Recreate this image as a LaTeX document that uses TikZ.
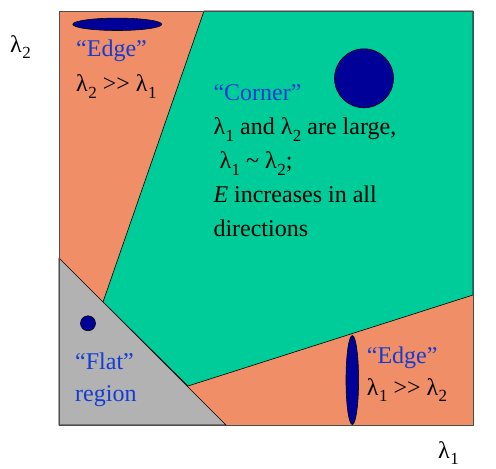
\documentclass[tikz,border=0pt]{standalone}
\usepackage{fontspec}
\setmainfont{Liberation Serif}
\usepackage{tikz}
\definecolor{edgeorange}{RGB}{240,142,104}
\definecolor{cornergreen}{RGB}{0,204,153}
\definecolor{flatgrey}{RGB}{178,178,178}
\definecolor{blobblue}{RGB}{0,0,153}
\definecolor{labelblue}{RGB}{20,60,210}
\newcommand\lam[1]{λ\kern0.5pt\raisebox{-6.5pt}{\fontsize{17}{17}\selectfont#1}}
\newcommand\quoted[1]{\textcolor{labelblue}{#1}}
\newcommand\muchgt{>{}>}

\begin{document}
\begin{tikzpicture}[x=1pt,y=-1pt,
region/.style={draw=black,line width=0.6pt,line join=round},
blob/.style={draw=black,fill=blobblue,line width=0.6pt},
txt/.style={anchor=base west,inner sep=0pt,align=left,font=\fontsize{24}{34}\selectfont}]
\useasboundingbox (0,0) rectangle (496,469);
\fill[edgeorange] (59,11) rectangle (473,425);
\draw[region,fill=cornergreen] (204,11) -- (473,11) -- (473,295) -- (188,386) -- (103,302) -- cycle;
\draw[region,fill=flatgrey] (59,258) -- (226,425) -- (59,425) -- cycle;
\draw[line width=1pt,draw=black!70] (59,11) rectangle (473,425);
\draw[blob] (117.3,24.3) ellipse [x radius=44.5pt,y radius=6.2pt];
\draw[blob] (364,78.3) circle [radius=29.5pt];
\draw[blob] (88,323.3) circle [radius=7.5pt];
\draw[blob] (352.3,380) ellipse [x radius=6.3pt,y radius=44.5pt];
\node[txt] (lamtwo) at (10,52) {\lam2};
\node[txt] (lamone) at (438,458) {\lam1};
\node[txt,font=\fontsize{24}{35}\selectfont] (edgetop) at (76,91.7) {\quoted{“Edge”}\\\lam2 \muchgt{} \lam1};
\node[txt] (corner) at (213.3,236.7) {\quoted{“Corner”}\\
\lam1 and \lam2 are large,\\
\hspace{6pt}\lam1 \textasciitilde{} \lam2;\\
\textit{E} increases in all\\
directions};
\node[txt,font=\fontsize{24}{32}\selectfont] (flat) at (75,401.7) {\quoted{“Flat”}\\\quoted{region}};
\node[txt,font=\fontsize{24}{32}\selectfont] (edgeright) at (366.7,395) {\quoted{“Edge”}\\\lam1 \muchgt{} \lam2};
\end{tikzpicture}
\end{document}
